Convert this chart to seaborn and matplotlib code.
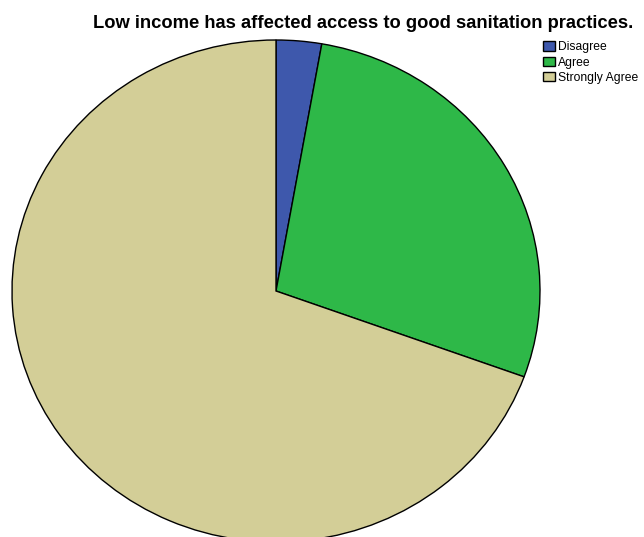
import matplotlib
matplotlib.use("Agg")
import matplotlib.pyplot as plt
import seaborn as sns

# data
labels = ["Disagree", "Agree", "Strongly Agree"]
counts = [2, 20, 50]
colors = ["#3E58AC", "#2EB848", "#D3CE97"]

sns.set_theme(style="white")
plt.rcParams["font.family"] = ["Liberation Sans", "DejaVu Sans"]
plt.rcParams["text.color"] = "black"

W, H = 644, 537
# the pie in the reference is a bit squashed: 264 px wide radius, 251 px tall, centre (276, 291)
cx, cy, rx, ry = 276, 291, 264, 251

fig = plt.figure(figsize=(W / 100, H / 100), dpi=100)
ax = fig.add_axes([0, 0, 1, 1])

wedges, _ = ax.pie(counts, colors=colors, startangle=90, counterclock=False,
                   wedgeprops={"edgecolor": "black", "linewidth": 1.0})
ax.set_aspect("auto")
ax.set_xlim(-cx / rx, (W - cx) / rx)
ax.set_ylim((cy - H) / ry, cy / ry)
ax.axis("off")

fig.text(363 / W, 1 - 23 / H, "Low income has affected access to good sanitation practices.",
         ha="center", va="center", fontsize=13.2, fontweight="bold", color="black")

ax.legend(wedges, labels, loc="upper left", bbox_to_anchor=(541 / W, 1 - 39 / H),
          bbox_transform=fig.transFigure, frameon=False, fontsize=8.7,
          handlelength=0.97, handleheight=0.85, handletextpad=0.25,
          labelspacing=0.26, borderpad=0.2, borderaxespad=0)

fig.savefig("out.png", dpi=100, facecolor="white")
